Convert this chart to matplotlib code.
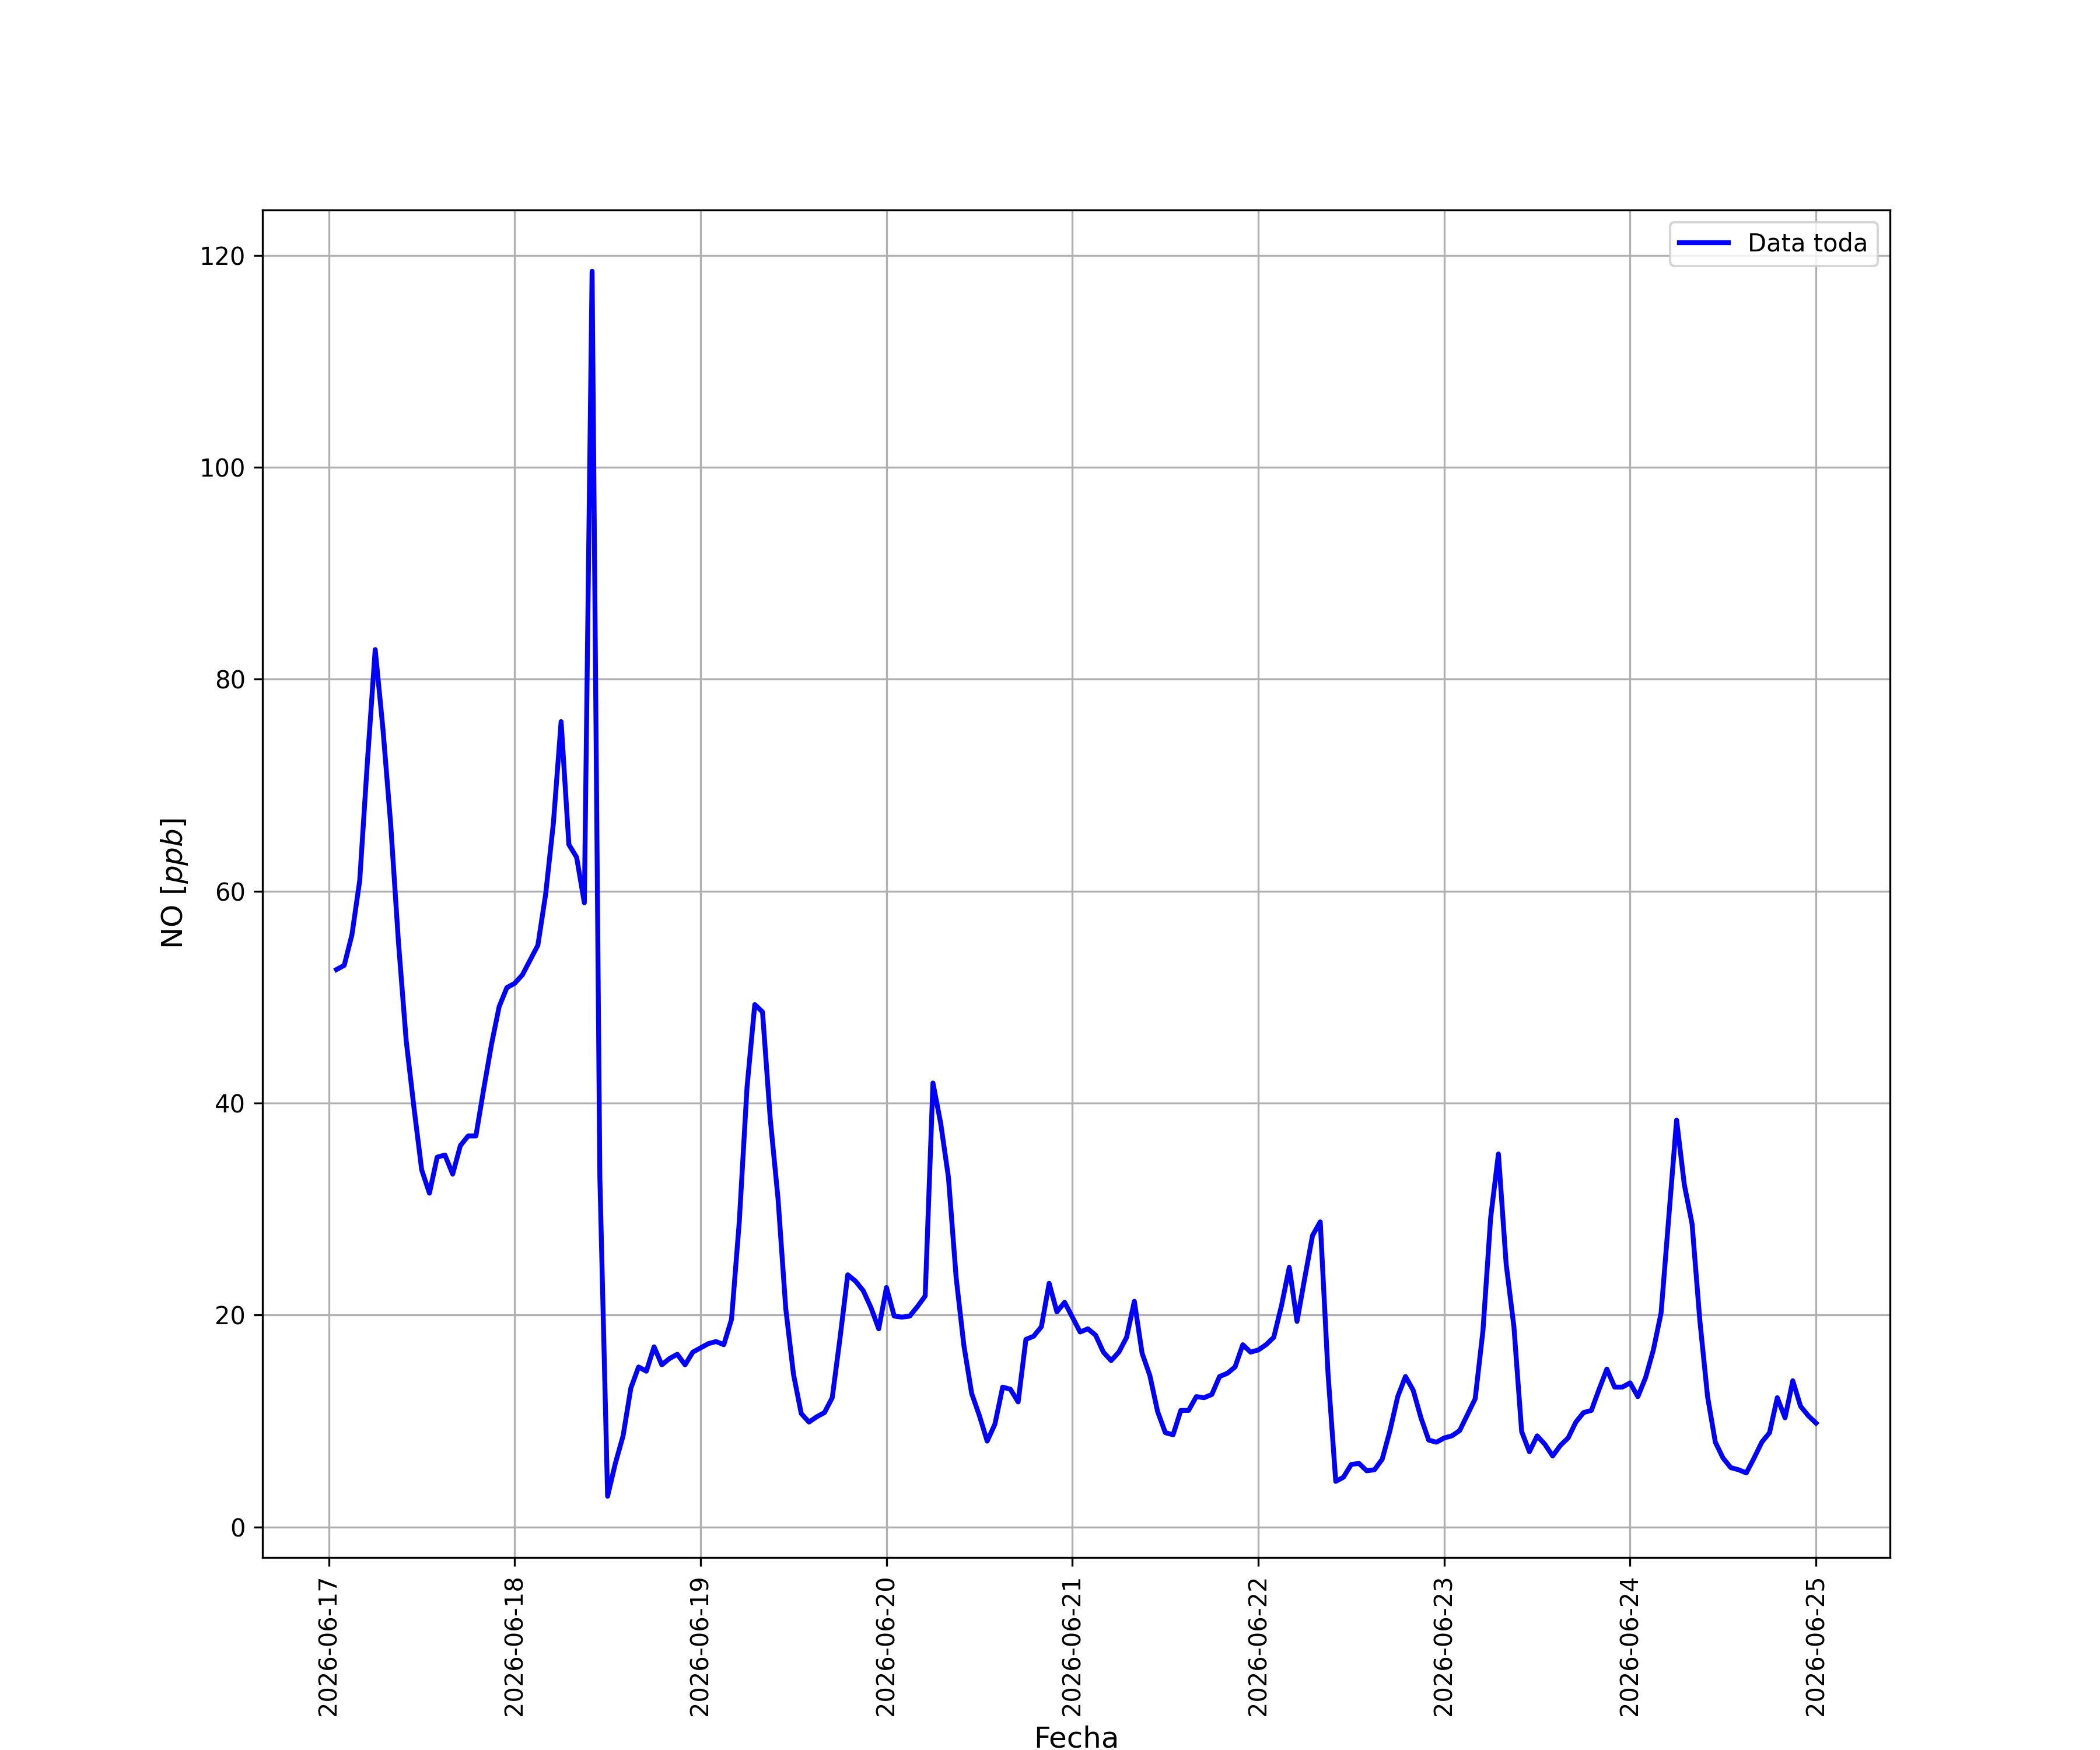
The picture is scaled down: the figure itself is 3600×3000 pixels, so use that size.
import matplotlib
matplotlib.use("Agg")
import matplotlib.pyplot as plt
import matplotlib.dates as mdates
import pandas as pd

# hourly NO readings, starting 2026-06-17 01:00
dia_17 = [52.6, 53.0, 55.9, 61.0, 72.3, 82.8, 75.3, 66.3, 55.2, 45.9,
          39.6, 33.7, 31.5, 34.9, 35.1, 33.3, 36.0, 36.9, 36.9, 41.3,
          45.5, 49.1, 50.9]
dia_18 = [51.3, 52.1, 53.5, 54.9, 59.7, 66.4, 76.0, 64.4, 63.2, 58.9,
          118.5, 33.0, 2.9, 6.0, 8.6, 13.1, 15.1, 14.7, 17.0, 15.3,
          15.9, 16.3, 15.3, 16.5]
dia_19 = [16.9, 17.3, 17.5, 17.2, 19.6, 28.8, 41.5, 49.3, 48.6, 38.5,
          31.0, 20.6, 14.4, 10.7, 9.9, 10.4, 10.8, 12.2, 17.8, 23.8,
          23.2, 22.3, 20.7, 18.7]
dia_20 = [22.6, 19.9, 19.8, 19.9, 20.8, 21.8, 41.9, 38.1, 33.0, 23.5,
          17.1, 12.6, 10.5, 8.1, 9.7, 13.2, 13.0, 11.8, 17.7, 18.0,
          18.9, 23.0, 20.3, 21.2]
dia_21 = [19.8, 18.4, 18.7, 18.1, 16.5, 15.7, 16.5, 17.9, 21.3, 16.4,
          14.3, 10.9, 8.9, 8.7, 11.0, 11.0, 12.3, 12.2, 12.5, 14.2,
          14.5, 15.1, 17.2, 16.5]
dia_22 = [16.7, 17.2, 17.9, 20.9, 24.5, 19.4, 23.5, 27.5, 28.8, 14.5,
          4.3, 4.7, 5.9, 6.0, 5.3, 5.4, 6.4, 9.1, 12.3, 14.2,
          12.9, 10.3, 8.2, 8.0]
dia_23 = [8.4, 8.6, 9.1, 10.6, 12.1, 18.5, 29.2, 35.2, 24.8, 18.9,
          9.0, 7.1, 8.6, 7.8, 6.7, 7.7, 8.4, 9.9, 10.8, 11.0,
          13.0, 14.9, 13.2, 13.2]
dia_24 = [13.6, 12.3, 14.1, 16.7, 20.2, 29.3, 38.4, 32.3, 28.6, 19.5,
          12.3, 8.0, 6.5, 5.6, 5.4, 5.1, 6.5, 8.0, 8.9, 12.2,
          10.3, 13.8, 11.4, 10.5]
dia_25 = [9.8]

no_ppb = dia_17 + dia_18 + dia_19 + dia_20 + dia_21 + dia_22 + dia_23 + dia_24 + dia_25
fechas = pd.date_range("2026-06-17 01:00", periods=len(no_ppb), freq="h")


def main() -> int:
    fig, ax = plt.subplots(figsize=(12, 10), dpi=300)
    ax.plot(fechas, no_ppb, color="blue", linewidth=2, label="Data toda")
    ax.set_xlabel("Fecha", fontsize=12)
    ax.set_ylabel("NO [$ppb$]", fontsize=12)
    ax.xaxis.set_major_locator(mdates.DayLocator())
    ax.xaxis.set_major_formatter(mdates.DateFormatter("%Y-%m-%d"))
    plt.xticks(rotation=90)
    ax.grid(True)
    ax.legend()
    fig.savefig("out.png", dpi=300)
    return 0


if __name__ == "__main__":
    main()
